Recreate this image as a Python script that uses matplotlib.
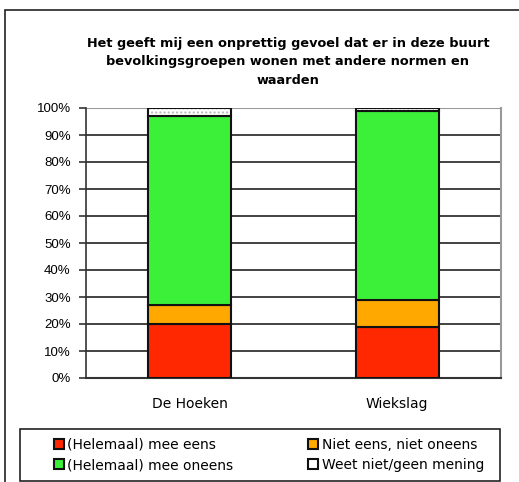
import numpy as np
import matplotlib.pyplot as plt
from matplotlib.patches import Rectangle, Patch
from matplotlib.ticker import PercentFormatter

# data
buurten = ["De Hoeken", "Wiekslag"]
mee_eens = [20, 19]
neutraal = [7, 10]
oneens = [70, 70]
weet_niet = [3, 1]

reeksen = ["(Helemaal) mee eens", "Niet eens, niet oneens",
           "(Helemaal) mee oneens", "Weet niet/geen mening"]
kleuren = ["#FF2800", "#FFA800", "#3CF03A", "#FFFFFF"]

titel = ("Het geeft mij een onprettig gevoel dat er in deze buurt\n"
         "bevolkingsgroepen wonen met andere normen en\nwaarden")

W, H = 519, 482
fig = plt.figure(figsize=(W / 100, H / 100), dpi=100)

# outer frame of the chart object (runs off the right/bottom edge)
fig.patches.append(Rectangle((5 / W, -0.05), 1.0, 1 - 10 / H + 0.05,
                             transform=fig.transFigure, fill=False,
                             edgecolor="#222222", linewidth=1.2))

ax = fig.add_axes([86 / W, 1 - 378 / H, 415 / W, 270 / H])

x = np.arange(len(buurten))
breedte = 0.4
onder = np.zeros(len(buurten))
for naam, waarden, kleur in zip(reeksen, [mee_eens, neutraal, oneens, weet_niet], kleuren):
    waarden = np.array(waarden, dtype=float)
    if naam.startswith("Weet"):
        ax.bar(x, waarden, breedte, bottom=onder, color="white",
               hatch="....", edgecolor="#bbbbbb", linewidth=0, zorder=3)
        ax.bar(x, waarden, breedte, bottom=onder, fill=False,
               edgecolor="#111111", linewidth=1.5, zorder=4)
    else:
        ax.bar(x, waarden, breedte, bottom=onder, color=kleur,
               edgecolor="#111111", linewidth=1.5, zorder=3)
    onder += waarden

ax.set_xlim(-0.5, 1.5)
ax.set_ylim(0, 100)
ax.set_yticks(np.arange(0, 101, 10))
ax.yaxis.set_major_formatter(PercentFormatter(decimals=0))
ax.set_xticks(x)
ax.set_xticklabels(buurten, fontsize=10, family="DejaVu Sans")
ax.tick_params(axis="x", length=0, pad=14)
ax.tick_params(axis="y", length=5, width=1.2, color="#333333", pad=6)
for lbl in ax.get_yticklabels():
    lbl.set_family("Liberation Sans")
    lbl.set_fontsize(9.5)

for y in range(10, 100, 10):
    ax.axhline(y, color="#222222", linewidth=1.2, zorder=1)
ax.axhline(100, color="#999999", linewidth=1.5, zorder=1)

ax.spines["top"].set_visible(False)
ax.spines["right"].set_color("#999999")
ax.spines["right"].set_linewidth(1.5)
ax.spines["left"].set_color("#333333")
ax.spines["left"].set_linewidth(1.2)
ax.spines["bottom"].set_color("#333333")
ax.spines["bottom"].set_linewidth(1.5)

fig.text(288 / W, 1 - 62 / H, titel, ha="center", va="center",
         fontsize=9.3, fontweight="bold", family="DejaVu Sans", linespacing=1.5)

# legend frame + entries
fig.patches.append(Rectangle((20 / W, 1 - 481 / H), 480 / W, 52 / H,
                             transform=fig.transFigure, fill=False,
                             edgecolor="#222222", linewidth=1.2))
handles = [Patch(facecolor=k, edgecolor="#111111", linewidth=1.5) for k in kleuren]
volgorde = [0, 2, 1, 3]
fig.legend([handles[i] for i in volgorde], [reeksen[i] for i in volgorde],
           ncol=2, loc="center left", bbox_to_anchor=(54 / W, 1 - 455 / H),
           frameon=False, handlelength=0.7, handleheight=0.7,
           handletextpad=0.25, columnspacing=5.4, labelspacing=0.45,
           borderaxespad=0, borderpad=0, prop={"family": "DejaVu Sans", "size": 10})

fig.savefig("out.png", dpi=100)
